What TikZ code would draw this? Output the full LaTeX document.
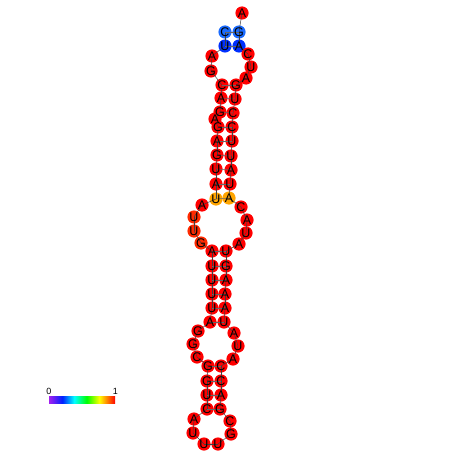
\documentclass[tikz,border=0pt]{standalone}
\usepackage{fontspec}
\setmainfont{Liberation Sans}
\pgfdeclarelayer{bg}
\pgfdeclarelayer{mid}
\pgfsetlayers{bg,mid,main}
\definecolor{cred}{HTML}{FF0000}
\definecolor{cred2}{HTML}{FF2A00}
\definecolor{corange}{HTML}{FFA500}
\definecolor{cblueA}{HTML}{1A6BFF}
\definecolor{cblueB}{HTML}{0030FF}
\definecolor{cpurple}{HTML}{A020F0}
\definecolor{cbar1}{HTML}{0020FF}
\definecolor{cbar2}{HTML}{00FFFF}
\definecolor{cbar3}{HTML}{00FF00}
\definecolor{cbar4}{HTML}{FFFF00}
\definecolor{cbar5}{HTML}{FF0000}
\pgfdeclarehorizontalshading{rainbowbar}{100bp}{color(0bp)=(cpurple); color(25bp)=(cpurple); color(35bp)=(cbar1); color(44bp)=(cbar2); color(53.5bp)=(cbar3); color(63bp)=(cbar4); color(75bp)=(cbar5); color(100bp)=(cbar5)}
\tikzset{
  base/.style={inner sep=0pt, font=\fontsize{12.5}{12.5}\selectfont, text=black},
  bb/.style={draw=black!75, line width=0.5pt},
  pr/.style={draw=black!60, line width=0.5pt},
  lbl/.style={inner sep=0pt, font=\fontsize{9}{9}\selectfont},
}
\newcommand{\nt}[5]{\node[base] (n#1) at (#2,#3) {#4};
  \begin{pgfonlayer}{bg}\fill[#5] (#2,#3) circle (6.6);\end{pgfonlayer}}
\begin{document}
\begin{tikzpicture}[x=1pt,y=-1pt]
\begin{pgfonlayer}{bg}
\fill[white] (0,0) rectangle (452,452);
\end{pgfonlayer}
\useasboundingbox (0,0) rectangle (452,452);
\nt{1}{242}{13}{A}{cred}
\nt{2}{239}{32}{G}{cblueA}
\nt{3}{239}{46}{A}{cblueB}
\nt{4}{248}{54}{C}{cred}
\nt{5}{251}{67}{U}{cred}
\nt{6}{246}{78}{A}{cred}
\nt{7}{236}{85}{G}{cred}
\nt{8}{235}{99}{U}{cred}
\nt{9}{233}{113}{C}{cred}
\nt{10}{232}{127}{C}{cred}
\nt{11}{232}{141}{U}{cred}
\nt{12}{231}{156}{U}{cred}
\nt{13}{231}{170}{A}{cred}
\nt{14}{230}{184}{U}{cred}
\nt{15}{229}{198}{A}{corange}
\nt{16}{241}{207}{C}{cred}
\nt{17}{247}{220}{A}{cred}
\nt{18}{246}{233}{U}{cred}
\nt{19}{239}{244}{A}{cred}
\nt{20}{226}{251}{U}{cred}
\nt{21}{226}{266}{G}{cred}
\nt{22}{226}{280}{A}{cred}
\nt{23}{225}{294}{A}{cred}
\nt{24}{225}{308}{A}{cred}
\nt{25}{224}{322}{U}{cred}
\nt{26}{234}{333}{A}{cred}
\nt{27}{238}{346}{U}{cred}
\nt{28}{233}{359}{A}{cred}
\nt{29}{221}{366}{C}{cred}
\nt{30}{221}{381}{C}{cred}
\nt{31}{221}{395}{A}{cred}
\nt{32}{220}{409}{G}{cred}
\nt{33}{230}{421}{C}{cred}
\nt{34}{231}{434}{G}{cred}
\nt{35}{218}{444}{U}{cred}
\nt{36}{204}{444}{U}{cred}
\nt{37}{193}{433}{U}{cred}
\nt{38}{194}{419}{A}{cred}
\nt{39}{207}{409}{C}{cred}
\nt{40}{207}{395}{U}{cred}
\nt{41}{207}{381}{G}{cred}
\nt{42}{208}{366}{G}{cred}
\nt{43}{197}{357}{C}{cred}
\nt{44}{193}{344}{G}{cred}
\nt{45}{198}{331}{G}{cred}
\nt{46}{210}{322}{A}{cred}
\nt{47}{212}{308}{U}{cred}
\nt{48}{212}{294}{U}{cred}
\nt{49}{212}{280}{U}{cred}
\nt{50}{212}{266}{U}{cred}
\nt{51}{212}{251}{A}{cred}
\nt{52}{201}{243}{G}{cred2}
\nt{53}{194}{231}{U}{cred2}
\nt{54}{194}{217}{U}{cred2}
\nt{55}{202}{205}{A}{cred}
\nt{56}{216}{199}{U}{corange}
\nt{57}{216}{184}{A}{cred}
\nt{58}{216}{169}{U}{cred}
\nt{59}{217}{155}{G}{cred}
\nt{60}{217}{141}{A}{cred}
\nt{61}{218}{127}{G}{cred}
\nt{62}{215}{119}{A}{cred}
\nt{63}{220}{112}{G}{cred}
\nt{64}{221}{98}{A}{cred}
\nt{65}{222}{85}{C}{cred}
\nt{66}{211}{71}{G}{cred}
\nt{67}{212}{56}{A}{cred}
\nt{68}{225}{46}{U}{cblueB}
\nt{69}{225}{32}{C}{cblueA}
\begin{pgfonlayer}{mid}
\foreach \i [evaluate=\i as \j using int(\i+1)] in {1,...,68}
  \draw[bb] (n\i.center) -- (n\j.center);
\foreach \a/\b in {2/69,3/68,7/65,8/64,9/63,10/61,11/60,12/59,13/58,14/57,15/56,20/51,21/50,22/49,23/48,24/47,25/46,29/42,30/41,31/40,32/39}
  \draw[pr] (n\a.center) -- (n\b.center);
\end{pgfonlayer}
\node[inner sep=0pt, minimum width=66pt, minimum height=7pt, shading=rainbowbar, anchor=north west] (bar) at (49,396) {};
\node[lbl, anchor=south] (l0) at ([yshift=1pt]bar.north west) {0};
\node[lbl, anchor=south] (l1) at ([yshift=1pt]bar.north east) {1};
\end{tikzpicture}
\end{document}
